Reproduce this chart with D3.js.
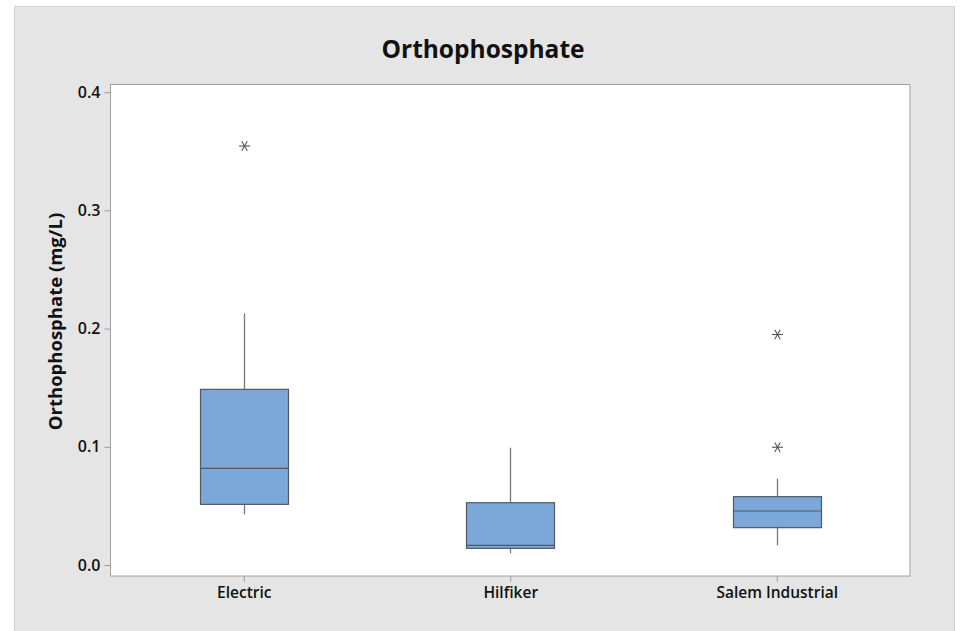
<!DOCTYPE html>
<html>
<head>
<meta charset="utf-8">
<script src="https://cdn.jsdelivr.net/npm/d3@7"></script>
<style>
  body { margin: 0; background: #fff; }
  text { font-family: "Open Sans", "Noto Sans", sans-serif; fill: #111; }
</style>
</head>
<body>
<svg id="chart" width="961" height="631"></svg>
<script>
// data
const sites = ["Electric", "Hilfiker", "Salem Industrial"];
const q1 = [0.0513, 0.0141, 0.0316];
const median = [0.0818, 0.0166, 0.0457];
const q3 = [0.1486, 0.0527, 0.0578];
const whiskerLow = [0.0429, 0.0099, 0.0167];
const whiskerHigh = [0.2129, 0.0992, 0.073];
const outliers = [[0.3545], [], [0.0996, 0.195]];
const yTicks = [0.0, 0.1, 0.2, 0.3, 0.4];

const svg = d3.select("#chart");

const plot = { left: 110.5, top: 84.5, right: 910, bottom: 576 };

// gray background panel
svg.append("rect")
    .attr("x", 14.5).attr("y", 6.5)
    .attr("width", 940).attr("height", 630)
    .attr("fill", "#e5e5e5")
    .attr("stroke", "#d2d2d2");

svg.append("rect")
    .attr("x", plot.left).attr("y", plot.top)
    .attr("width", plot.right - plot.left).attr("height", plot.bottom - plot.top)
    .attr("fill", "#fff");

const x = d3.scalePoint()
    .domain(sites)
    .range([plot.left, plot.right])
    .padding(0.5);

const y = d3.scaleLinear()
    .domain([-0.0093, 0.4065])
    .range([plot.bottom, plot.top]);

// axes
const yAxis = svg.append("g")
    .attr("transform", `translate(${plot.left},0)`)
    .call(d3.axisLeft(y).tickValues(yTicks).tickFormat(d3.format(".1f")).tickSize(6).tickPadding(4));
yAxis.select(".domain").remove();
yAxis.selectAll("line").attr("stroke", "#999");
yAxis.selectAll("text").attr("font-size", 16).attr("font-weight", 600).attr("fill", "#111")
    .attr("font-family", "Open Sans, sans-serif");

const xAxis = svg.append("g")
    .attr("transform", `translate(0,${plot.bottom})`)
    .call(d3.axisBottom(x).tickSize(6).tickPadding(5));
xAxis.select(".domain").remove();
xAxis.selectAll("line").attr("stroke", "#999");
xAxis.selectAll("text").attr("font-size", 15.5).attr("font-weight", 600).attr("fill", "#111")
    .attr("font-family", "Open Sans, sans-serif");

// plot frame
svg.append("rect")
    .attr("x", plot.left).attr("y", plot.top)
    .attr("width", plot.right - plot.left).attr("height", plot.bottom - plot.top)
    .attr("fill", "none")
    .attr("stroke", "#a0a0a0");

// boxes
const boxWidth = 88;
const g = svg.append("g");

sites.forEach((s, i) => {
    const cx = Math.round(x(s)) + 0.5;

    // whiskers
    g.append("line")
        .attr("x1", cx).attr("x2", cx)
        .attr("y1", y(q3[i])).attr("y2", y(whiskerHigh[i]))
        .attr("stroke", "#777").attr("stroke-width", 1.3);
    g.append("line")
        .attr("x1", cx).attr("x2", cx)
        .attr("y1", y(q1[i])).attr("y2", y(whiskerLow[i]))
        .attr("stroke", "#777").attr("stroke-width", 1.3);

    g.append("rect")
        .attr("x", cx - boxWidth / 2).attr("y", y(q3[i]))
        .attr("width", boxWidth).attr("height", y(q1[i]) - y(q3[i]))
        .attr("fill", "#7ba7d9")
        .attr("stroke", "#4f5a66").attr("stroke-width", 1.2);

    g.append("line")
        .attr("x1", cx - boxWidth / 2).attr("x2", cx + boxWidth / 2)
        .attr("y1", y(median[i])).attr("y2", y(median[i]))
        .attr("stroke", "#4f5a66").attr("stroke-width", 1.2);

    // outliers as asterisks
    outliers[i].forEach(v => {
        const oy = y(v);
        const r = 5.5;
        const star = g.append("g").attr("transform", `translate(${cx},${oy})`)
            .attr("stroke", "#555").attr("stroke-width", 1.1);
        star.append("line").attr("x1", -r).attr("x2", r).attr("y1", 0).attr("y2", 0);
        star.append("line").attr("x1", -r * 0.5).attr("x2", r * 0.5).attr("y1", -r * 0.87).attr("y2", r * 0.87);
        star.append("line").attr("x1", r * 0.5).attr("x2", -r * 0.5).attr("y1", -r * 0.87).attr("y2", r * 0.87);
    });
});

// title and y label
svg.append("text")
    .attr("x", 483).attr("y", 58)
    .attr("text-anchor", "middle")
    .attr("font-size", 24.5)
    .attr("font-weight", "bold")
    .text("Orthophosphate");

svg.append("text")
    .attr("transform", "translate(62,321.5) rotate(-90)")
    .attr("text-anchor", "middle")
    .attr("font-size", 18.5)
    .attr("font-weight", "bold")
    .text("Orthophosphate (mg/L)");
</script>
</body>
</html>
